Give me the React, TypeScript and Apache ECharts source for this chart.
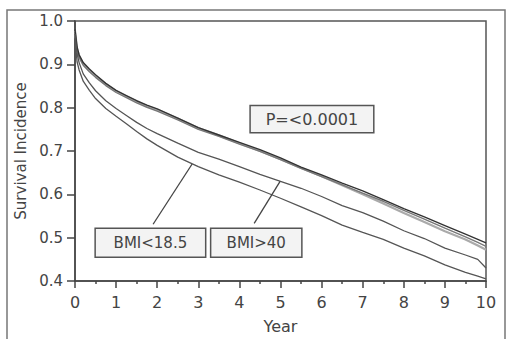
import React, { useEffect, useRef } from "react";
import * as echarts from "echarts";

const years = [0, 0.05, 0.1, 0.2, 0.35, 0.5, 0.75, 1, 1.25, 1.5, 1.75, 2, 2.5, 3, 3.5, 4, 4.5, 5, 5.5, 6, 6.5, 7, 7.5, 8, 8.5, 9, 9.5, 9.8, 10];

const normalBMI = [0.98, 0.94, 0.922, 0.904, 0.889, 0.876, 0.856, 0.84, 0.828, 0.816, 0.806, 0.797, 0.776, 0.754, 0.737, 0.72, 0.703, 0.684, 0.663, 0.645, 0.626, 0.608, 0.588, 0.567, 0.548, 0.528, 0.508, 0.496, 0.488];
const overweightBMI = [0.975, 0.933, 0.916, 0.898, 0.883, 0.87, 0.851, 0.835, 0.823, 0.811, 0.801, 0.792, 0.772, 0.75, 0.734, 0.716, 0.699, 0.68, 0.66, 0.641, 0.622, 0.603, 0.584, 0.563, 0.543, 0.522, 0.502, 0.489, 0.48];
const obeseBMI = [0.978, 0.936, 0.919, 0.901, 0.886, 0.873, 0.854, 0.838, 0.826, 0.814, 0.804, 0.795, 0.775, 0.753, 0.736, 0.718, 0.7, 0.681, 0.661, 0.642, 0.621, 0.6, 0.579, 0.557, 0.536, 0.515, 0.496, 0.482, 0.472];
const bmiOver40 = [0.97, 0.925, 0.904, 0.878, 0.857, 0.839, 0.816, 0.798, 0.782, 0.766, 0.752, 0.74, 0.718, 0.697, 0.681, 0.664, 0.646, 0.63, 0.614, 0.595, 0.574, 0.558, 0.538, 0.516, 0.498, 0.476, 0.46, 0.45, 0.43];
const bmiUnder185 = [0.96, 0.906, 0.887, 0.861, 0.84, 0.821, 0.798, 0.78, 0.763, 0.745, 0.728, 0.713, 0.686, 0.664, 0.645, 0.628, 0.61, 0.591, 0.571, 0.551, 0.529, 0.512, 0.496, 0.476, 0.458, 0.437, 0.42, 0.411, 0.405];

const yTicks = [0.4, 0.5, 0.6, 0.7, 0.8, 0.9, 1.0];
const xTicks = [0, 1, 2, 3, 4, 5, 6, 7, 8, 9, 10];

// annotation anchors in data coordinates
const pBox = { text: "P=<0.0001", x0: 4.26, y0: 0.805, x1: 7.27, y1: 0.742 };
const lowBox = { text: "BMI<18.5", x0: 0.49, y0: 0.522, x1: 3.18, y1: 0.455 };
const highBox = { text: "BMI>40", x0: 3.3, y0: 0.522, x1: 5.52, y1: 0.455 };
const lowPointer = [[1.9, 0.531], [2.85, 0.67]];
const highPointer = [[4.36, 0.533], [4.99, 0.63]];

const pairs = (vals: number[]) => years.map((t, i) => [t, vals[i]]);

export default function App() {
  const ref = useRef<HTMLDivElement>(null);
  useEffect(() => {
    if (!ref.current) return;
    const chart = echarts.init(ref.current, null, { renderer: "svg" });
    const font = "DejaVu Sans";
    const line = (name: string, vals: number[], color: string, width: number) => ({
      name,
      type: "line",
      data: pairs(vals),
      showSymbol: false,
      symbol: "none",
      lineStyle: { color, width },
      z: 3,
    });
    chart.setOption({
      animation: false,
      backgroundColor: "#ffffff",
      grid: {
        left: 75,
        right: 20,
        top: 21,
        bottom: 58,
        show: true,
        borderColor: "#555",
        borderWidth: 1.5,
        backgroundColor: "transparent",
      },
      xAxis: {
        type: "value",
        min: 0,
        max: 10,
        interval: 1,
        name: "Year",
        nameLocation: "middle",
        nameGap: 37,
        nameTextStyle: { fontFamily: font, fontSize: 16, color: "#444" },
        axisLine: { lineStyle: { color: "#444", width: 1.5 } },
        axisTick: { length: 7, lineStyle: { color: "#444", width: 1.5 } },
        minorTick: { show: true, splitNumber: 2, length: 3, lineStyle: { color: "#444", width: 1.5 } },
        axisLabel: { fontFamily: font, fontSize: 16, color: "#444", margin: 13 },
        splitLine: { show: false },
      },
      yAxis: {
        type: "value",
        min: 0.4,
        max: 1.0,
        interval: 0.1,
        name: "Survival Incidence",
        nameLocation: "middle",
        nameGap: 43,
        nameTextStyle: { fontFamily: font, fontSize: 15, color: "#444" },
        axisLine: { show: true, lineStyle: { color: "#444", width: 1.5 } },
        axisTick: { show: true, length: 8, lineStyle: { color: "#444", width: 1.5 } },
        axisLabel: {
          fontFamily: font,
          fontSize: 15,
          color: "#444",
          margin: 12,
          formatter: (v: number) => v.toFixed(1),
        },
        splitLine: { show: false },
      },
      series: [
        line("Obese", obeseBMI, "#aaaaaa", 2.2),
        line("Overweight", overweightBMI, "#777777", 1.4),
        line("Normal", normalBMI, "#333333", 1.4),
        line("BMI>40", bmiOver40, "#555555", 1.3),
        line("BMI<18.5", bmiUnder185, "#555555", 1.3),
      ],
    });

    const px = (p: number[]) => chart.convertToPixel({ gridIndex: 0 }, p) as number[];
    const box = (b: typeof pBox, fontSize: number) => {
      const a = px([b.x0, b.y0]);
      const c = px([b.x1, b.y1]);
      return {
        type: "group",
        children: [
          {
            type: "rect",
            shape: { x: a[0], y: a[1], width: c[0] - a[0], height: c[1] - a[1] },
            style: { fill: "#f3f3f3", stroke: "#555", lineWidth: 1.5 },
            z: 10,
          },
          {
            type: "text",
            x: (a[0] + c[0]) / 2,
            y: (a[1] + c[1]) / 2,
            style: {
              text: b.text,
              fill: "#444",
              font: `${fontSize}px "${font}"`,
              align: "center",
              verticalAlign: "middle",
            },
            z: 11,
          },
        ],
      };
    };
    const pointer = (pts: number[][]) => {
      const a = px(pts[0]);
      const c = px(pts[1]);
      return {
        type: "line",
        shape: { x1: a[0], y1: a[1], x2: c[0], y2: c[1] },
        style: { stroke: "#444", lineWidth: 1.3 },
        z: 10,
      };
    };
    chart.setOption({
      graphic: [
        {
          type: "rect",
          shape: { x: 7, y: 10, width: 498, height: 340 },
          style: { fill: "none", stroke: "#777", lineWidth: 1.5 },
          silent: true,
        },
        box(pBox, 16),
        box(lowBox, 15),
        box(highBox, 15),
        pointer(lowPointer),
        pointer(highPointer),
      ],
    });
    return () => chart.dispose();
  }, []);
  return (
    <div
      ref={ref}
      style={{ position: "fixed", left: 0, top: 0, width: 506, height: 339 }}
    />
  );
}
